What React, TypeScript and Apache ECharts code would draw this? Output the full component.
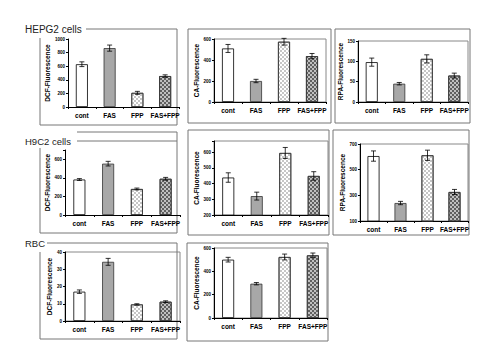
import React, { useEffect, useRef } from "react";
import * as echarts from "echarts";

const categories = ["cont", "FAS", "FPP", "FAS+FPP"];

const hepg2Dcf = [629, 866, 208, 455];
const hepg2DcfErr = [35, 45, 22, 18];
const hepg2Ca = [510, 200, 574, 437];
const hepg2CaErr = [38, 16, 32, 25];
const hepg2Rpa = [98, 45, 106, 65];
const hepg2RpaErr = [10, 3, 10, 6];

const h9c2Dcf = [382, 553, 280, 390];
const h9c2DcfErr = [10, 25, 10, 15];
const h9c2Ca = [438, 320, 594, 448];
const h9c2CaErr = [30, 25, 35, 27];
const h9c2Rpa = [606, 240, 612, 326];
const h9c2RpaErr = [40, 13, 40, 20];

const rbcDcf = [17, 34.3, 9.6, 11.2];
const rbcDcfErr = [1, 2, 0.4, 0.5];
const rbcCa = [500, 294, 523, 537];
const rbcCaErr = [20, 10, 25, 20];

const groupTitles = ["HEPG2 cells", "H9C2 cells", "RBC"];

const FONT = "Liberation Sans, Arial, sans-serif";

type Panel = {
  name: string;
  values: number[];
  errs: number[];
  min: number;
  max: number;
  interval: number;
  hideMax?: boolean;
  grid: { left: number; top: number; width: number; height: number };
  border: boolean;
  nameGap: number;
};

const panels: Panel[] = [
  { name: "DCF-Fluorescence", values: hepg2Dcf, errs: hepg2DcfErr, min: 0, max: 1000, interval: 200, grid: { left: 68, top: 39, width: 111, height: 68 }, border: false, nameGap: 14 },
  { name: "CA-Fluorescence", values: hepg2Ca, errs: hepg2CaErr, min: 0, max: 600, interval: 200, grid: { left: 214, top: 39, width: 112, height: 63 }, border: true, nameGap: 13 },
  { name: "RPA-Fluorescence", values: hepg2Rpa, errs: hepg2RpaErr, min: 0, max: 150, interval: 50, grid: { left: 358, top: 41, width: 110, height: 61 }, border: true, nameGap: 11 },
  { name: "DCF-Fluorescence", values: h9c2Dcf, errs: h9c2DcfErr, min: 0, max: 700, interval: 200, hideMax: true, grid: { left: 65, top: 150, width: 115, height: 65 }, border: false, nameGap: 14 },
  { name: "CA-Fluorescence", values: h9c2Ca, errs: h9c2CaErr, min: 200, max: 670, interval: 100, hideMax: true, grid: { left: 214, top: 141, width: 114, height: 74 }, border: true, nameGap: 13 },
  { name: "RPA-Fluorescence", values: h9c2Rpa, errs: h9c2RpaErr, min: 100, max: 700, interval: 200, grid: { left: 360, top: 144, width: 108, height: 77 }, border: true, nameGap: 12 },
  { name: "DCF-Fluorescence", values: rbcDcf, errs: rbcDcfErr, min: 0, max: 40, interval: 10, grid: { left: 65, top: 252, width: 115, height: 69 }, border: true, nameGap: 12 },
  { name: "CA-Fluorescence", values: rbcCa, errs: rbcCaErr, min: 0, max: 600, interval: 200, grid: { left: 214, top: 248, width: 113, height: 70 }, border: true, nameGap: 13 },
];

const barStyles: any[] = [
  { color: "#ffffff", borderColor: "#000", borderWidth: 0.8 },
  { color: "#a8a8a8", borderColor: "#333", borderWidth: 0.8 },
  {
    color: "#ffffff",
    borderColor: "#333",
    borderWidth: 0.8,
    decal: { symbol: "rect", symbolSize: 0.8, color: "#a0a0a0", dashArrayX: [[1.5, 1.5], [0, 1.5, 1.5, 0]], dashArrayY: [1.5, 0] },
  },
  {
    color: "#c0c0c0",
    borderColor: "#333",
    borderWidth: 0.8,
    decal: { symbol: "rect", symbolSize: 1, color: "#606060", dashArrayX: [[1.2, 1.2], [0, 1.2, 1.2, 0]], dashArrayY: [1.2, 0] },
  },
];

function buildOption() {
  const grid: any[] = [];
  const xAxis: any[] = [];
  const yAxis: any[] = [];
  const series: any[] = [];
  panels.forEach((p, i) => {
    grid.push({
      ...p.grid,
      show: p.border,
      borderColor: "#888",
      borderWidth: 1,
      backgroundColor: "transparent",
    });
    xAxis.push({
      type: "category",
      gridIndex: i,
      data: categories,
      axisLine: { lineStyle: { color: "#000", width: 1 } },
      axisTick: { show: true, length: 2, lineStyle: { color: "#000" } },
      axisLabel: { fontSize: 6.5, fontWeight: "bold", color: "#000", fontFamily: FONT, margin: 5, interval: 0 },
    });
    yAxis.push({
      type: "value",
      gridIndex: i,
      min: p.min,
      max: p.max,
      interval: p.interval,
      name: p.name,
      nameLocation: "middle",
      nameRotate: 90,
      nameGap: p.nameGap,
      nameTextStyle: { fontSize: 6.5, fontWeight: "bold", color: "#000", fontFamily: FONT },
      axisLine: { show: true, lineStyle: { color: "#000", width: 1 } },
      axisTick: { show: true, length: 2, lineStyle: { color: "#000" } },
      splitLine: { show: false },
      axisLabel: {
        fontSize: 4.5,
        fontWeight: "bold",
        color: "#000",
        fontFamily: FONT,
        margin: 3,
        formatter: (v: number) => (p.hideMax && v === p.max ? "" : String(v)),
      },
    });
    series.push({
      type: "bar",
      xAxisIndex: i,
      yAxisIndex: i,
      barWidth: 12,
      data: p.values.map((v, k) => ({ value: v, itemStyle: barStyles[k] })),
      z: 2,
    });
    series.push({
      type: "custom",
      xAxisIndex: i,
      yAxisIndex: i,
      z: 5,
      data: p.values.map((v, k) => [k, v, p.errs[k]]),
      renderItem: (params: any, api: any) => {
        const x = api.value(0);
        const y = api.value(1);
        const e = api.value(2);
        const t = api.coord([x, y + e]);
        const b = api.coord([x, y - e]);
        const hw = 2.5;
        const st = { stroke: "#000", lineWidth: 0.8 };
        return {
          type: "group",
          children: [
            { type: "line", shape: { x1: t[0], y1: t[1], x2: b[0], y2: b[1] }, style: st },
            { type: "line", shape: { x1: t[0] - hw, y1: t[1], x2: t[0] + hw, y2: t[1] }, style: st },
            { type: "line", shape: { x1: b[0] - hw, y1: b[1], x2: b[0] + hw, y2: b[1] }, style: st },
          ],
        };
      },
    });
  });

  const ln = (x1: number, y1: number, x2: number, y2: number, color = "#777") => ({
    type: "line",
    silent: true,
    shape: { x1, y1, x2, y2 },
    style: { stroke: color, lineWidth: 1 },
  });
  const title = (text: string, x: number, y: number, size: number) => ({
    type: "text",
    x,
    y,
    style: { text, fontSize: size, fontFamily: FONT, fill: "#222", textVerticalAlign: "middle" },
  });

  const graphic: any[] = [
    title(groupTitles[0], 25, 29, 10),
    title(groupTitles[1], 25, 141, 9.5),
    title(groupTitles[2], 25, 243, 9.5),
    // panel 1 box
    ln(86, 29, 177, 29),
    ln(177, 29, 177, 125),
    ln(40, 38, 40, 125),
    ln(40, 125, 177, 125),
    // panel 2 box
    ln(188, 29, 331, 29),
    ln(331, 29, 331, 123),
    ln(188, 29, 188, 123),
    ln(188, 123, 331, 123),
    // panel 3 box
    ln(335, 29, 470, 29),
    ln(470, 29, 470, 123),
    ln(335, 29, 335, 123),
    ln(335, 123, 470, 123),
    // panel 4 box
    ln(77, 132, 177, 132),
    ln(77, 141, 177, 141),
    ln(177, 132, 177, 233),
    ln(40, 148, 40, 233),
    ln(40, 233, 177, 233),
    // panel 5 box
    ln(188, 130, 329, 130),
    ln(329, 130, 329, 235),
    ln(188, 130, 188, 235),
    ln(188, 235, 329, 235),
    // panel 6 box
    ln(333, 130, 469, 130),
    ln(469, 130, 469, 235),
    ln(333, 130, 333, 235),
    ln(333, 235, 469, 235),
    // panel 7 box
    ln(47, 243, 177, 243),
    ln(177, 243, 177, 339),
    ln(40, 252, 40, 339),
    ln(40, 339, 177, 339),
    // panel 8 box
    ln(187, 243, 328, 243),
    ln(328, 243, 328, 341),
    ln(187, 243, 187, 341),
    ln(187, 341, 328, 341),
  ];

  return {
    animation: false,
    backgroundColor: "#ffffff",
    grid,
    xAxis,
    yAxis,
    series,
    graphic,
  };
}

export default function App() {
  const ref = useRef<HTMLDivElement>(null);
  useEffect(() => {
    if (!ref.current) return;
    const chart = echarts.init(ref.current, undefined, { renderer: "svg", width: 500, height: 364 });
    chart.setOption(buildOption() as any);
    return () => chart.dispose();
  }, []);
  return (
    <div
      ref={ref}
      style={{ position: "fixed", left: 0, top: 0, width: 500, height: 364, background: "#fff" }}
    />
  );
}
